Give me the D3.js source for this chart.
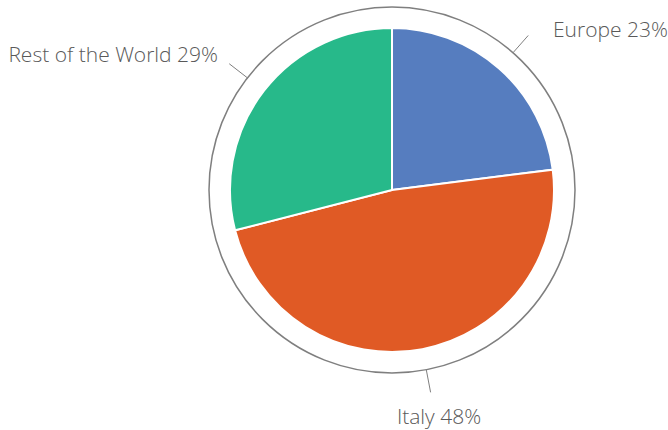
<!DOCTYPE html>
<html lang="en">
<head>
  <meta charset="UTF-8">
  <title>Pie Chart</title>
  <script src="https://d3js.org/d3.v7.min.js"></script>
  <style>
    body { margin: 0; background: #fff; }
    .label { font-family: "Open Sans", sans-serif; font-weight: 300; fill: #595959; }
  </style>
</head>
<body>
  <svg id="chart" width="668" height="430"></svg>
  <script>
    // Data
    const categories = ["Europe", "Italy", "Rest of the World"];
    const values = [23, 48, 29];
    const colors = ["#567dbf", "#e05a25", "#27b98a"];

    const width = 668, height = 430;
    const cx = 392, cy = 190;
    const radius = 162;       // pie
    const ringRadius = 183;   // outer ring

    const svg = d3.select("#chart");
    const g = svg.append("g").attr("transform", `translate(${cx},${cy})`);

    const pie = d3.pie().sort(null).value(d => d);
    const arcs = pie(values);
    const arc = d3.arc().innerRadius(0).outerRadius(radius);

    // outer ring
    g.append("circle")
      .attr("r", ringRadius)
      .attr("fill", "none")
      .attr("stroke", "#7f7f7f")
      .attr("stroke-width", 1.5);

    g.selectAll("path.slice")
      .data(arcs)
      .enter().append("path")
      .attr("class", "slice")
      .attr("d", arc)
      .attr("fill", (d, i) => colors[i])
      .attr("stroke", "#fff")
      .attr("stroke-width", 2);

    // leader lines
    const mid = d => (d.startAngle + d.endAngle) / 2;
    g.selectAll("line.leader")
      .data(arcs)
      .enter().append("line")
      .attr("x1", d => Math.sin(mid(d)) * ringRadius)
      .attr("y1", d => -Math.cos(mid(d)) * ringRadius)
      .attr("x2", d => Math.sin(mid(d)) * 206)
      .attr("y2", d => -Math.cos(mid(d)) * 206)
      .attr("stroke", "#7f7f7f")
      .attr("stroke-width", 1);

    // labels
    const labelPos = [
      { x: 161, y: -153, anchor: "start" },
      { x: 47, y: 234, anchor: "middle" },
      { x: -174, y: -128, anchor: "end" }
    ];
    g.selectAll("text.label")
      .data(arcs)
      .enter().append("text")
      .attr("class", "label")
      .attr("x", (d, i) => labelPos[i].x)
      .attr("y", (d, i) => labelPos[i].y)
      .attr("text-anchor", (d, i) => labelPos[i].anchor)
      .style("font-size", "21px")
      .text((d, i) => `${categories[i]} ${values[i]}%`);
  </script>
</body>
</html>
